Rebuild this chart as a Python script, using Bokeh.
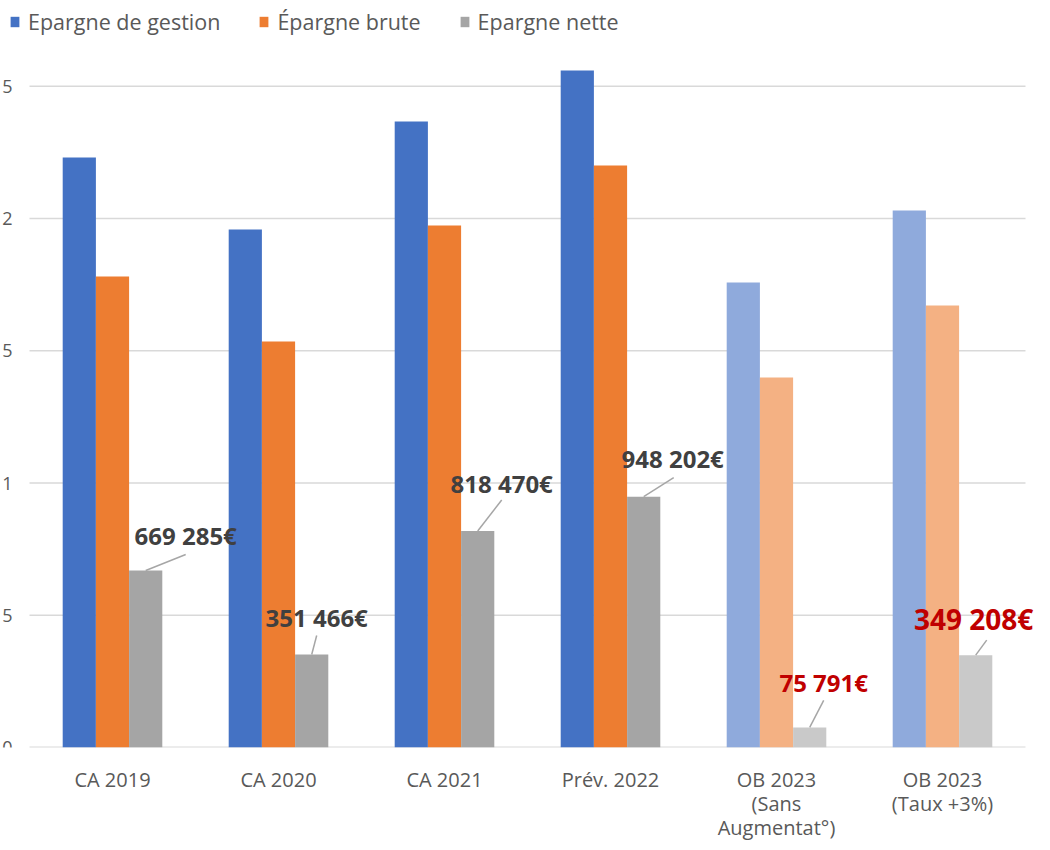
from bokeh.plotting import figure
from bokeh.models import Legend, LegendItem, FixedTicker, ColumnDataSource, Range1d, LabelSet
from bokeh.embed import file_html
from bokeh.resources import INLINE
from bokeh.core.properties import value
import numpy as np

# ---- data ----
categories = ["CA 2019", "CA 2020", "CA 2021", "Prév. 2022",
              "OB 2023\n(Sans\nAugmentat°)", "OB 2023\n(Taux +3%)"]
epargne_gestion = [2.231, 1.958, 2.367, 2.560, 1.758, 2.030]   # millions €
epargne_brute = [1.781, 1.535, 1.974, 2.200, 1.399, 1.671]     # millions €
epargne_nette = [669285, 351466, 818470, 948202, 75791, 349208]  # €
series_names = ["Epargne de gestion", "Épargne brute", "Epargne nette"]
y_ticks = [0, 0.5, 1, 1.5, 2, 2.5]
y_tick_labels = ["0", "5", "1", "5", "2", "5"]

# ---- styles ----
FONT = "Open Sans"
dark_colors = ["#4472C4", "#ED7D31", "#A5A5A5"]
light_colors = ["#8FAADC", "#F4B183", "#C9C9C9"]
n = len(categories)
light_flags = [i >= 4 for i in range(n)]

# label placement (pixels relative to the top of each grey bar)
label_dx = [40, 5, 24, 29, 14, -2]
label_dy = [35, 37, 48, 38, 45, 36]
label_sizes = ["24px", "24px", "24px", "24px", "24px", "28px"]
label_colors = ["#404040", "#404040", "#404040", "#404040", "#C00000", "#C00000"]
leader_dx = [40, 5, 24, 30, 14, 11]
leader_dy = [16, 19, 31, 19, 27, 15]

PX_X = 166.0    # pixels per category
PX_Y = 264.5    # pixels per million
FRAME_H = 747
FRAME_W = 1034
LEFT_PAD = 29   # pixels between frame edge and first category band
RIGHT_PAD = FRAME_W - LEFT_PAD - 6 * 166

p = figure(frame_width=FRAME_W, frame_height=FRAME_H, output_backend="svg",
           toolbar_location=None,
           x_range=Range1d(-0.5 - LEFT_PAD / PX_X, n - 0.5 + RIGHT_PAD / PX_X),
           y_range=Range1d(0, FRAME_H / PX_Y),
           min_border_left=0, min_border_right=0, min_border_top=0,
           min_border_bottom=87)
p.outline_line_color = None
p.background_fill_color = "white"
p.xgrid.grid_line_color = None
p.ygrid.grid_line_color = None
p.yaxis.visible = False

# horizontal gridlines limited to the category area
yt = np.array(y_ticks, dtype=float)
p.segment(x0=np.full(len(yt), -0.5), y0=yt, x1=np.full(len(yt), n - 0.5), y1=yt,
          line_color="#D9D9D9", line_width=[2 if t == 0 else 1.3 for t in y_ticks])

# y tick labels (left edge, as in the cropped original)
p.text(x=np.full(len(yt), -0.5), y=yt, text=y_tick_labels, x_offset=-17,
       text_align="right", text_baseline="middle", text_font=value(FONT),
       text_font_size="18px", text_color="#595959")

xs = np.arange(n)
nette_m = np.array(epargne_nette) / 1e6
series_vals = [epargne_gestion, epargne_brute, list(nette_m)]
offsets = [-0.2, 0.0, 0.2]
renderers = []
for k in range(3):
    cols = [light_colors[k] if f else dark_colors[k] for f in light_flags]
    src = ColumnDataSource(dict(x=xs + offsets[k], top=series_vals[k], color=cols))
    r = p.vbar(x="x", top="top", width=0.2, bottom=0, source=src,
               fill_color="color", line_color=None)
    renderers.append(r)

# leader lines
gx = xs + 0.2
p.segment(x0=gx, y0=nette_m,
          x1=gx + np.array(leader_dx) / PX_X, y1=nette_m + np.array(leader_dy) / PX_Y,
          line_color="#A6A6A6", line_width=1.5)

# data labels
labels = [f"{v:,}".replace(",", " ") + "€" for v in epargne_nette]
lsrc = ColumnDataSource(dict(x=gx, y=nette_m, text=labels, dx=label_dx, dy=label_dy,
                             size=label_sizes, color=label_colors))
p.add_layout(LabelSet(x="x", y="y", text="text", x_offset="dx", y_offset="dy", source=lsrc,
                      text_font=value(FONT), text_font_style="bold", text_font_size="size",
                      text_color="color", text_align="center", text_baseline="middle"))

# x axis
p.xaxis.ticker = FixedTicker(ticks=list(range(n)))
p.xaxis.major_label_overrides = {i: c for i, c in enumerate(categories)}
p.xaxis.major_label_text_font = FONT
p.xaxis.major_label_text_font_size = "20px"
p.xaxis.major_label_text_color = "#595959"
p.xaxis.major_label_text_line_height = 0.9
p.xaxis.major_tick_line_color = None
p.xaxis.minor_tick_line_color = None
p.xaxis.major_label_standoff = 12
p.xaxis.axis_line_color = None

legend = Legend(items=[LegendItem(label=series_names[k], renderers=[renderers[k]], index=0)
                       for k in range(3)],
                orientation="horizontal", location=(9, FRAME_H - 36),
                glyph_width=11, glyph_height=13, label_standoff=8, spacing=38,
                label_text_font=FONT, label_text_font_size="21.5px",
                label_text_color="#595959", label_height=24,
                padding=0, margin=0, border_line_color=None,
                background_fill_alpha=0)
p.add_layout(legend, "center")

open("out.html", "w").write(file_html(p, INLINE))
